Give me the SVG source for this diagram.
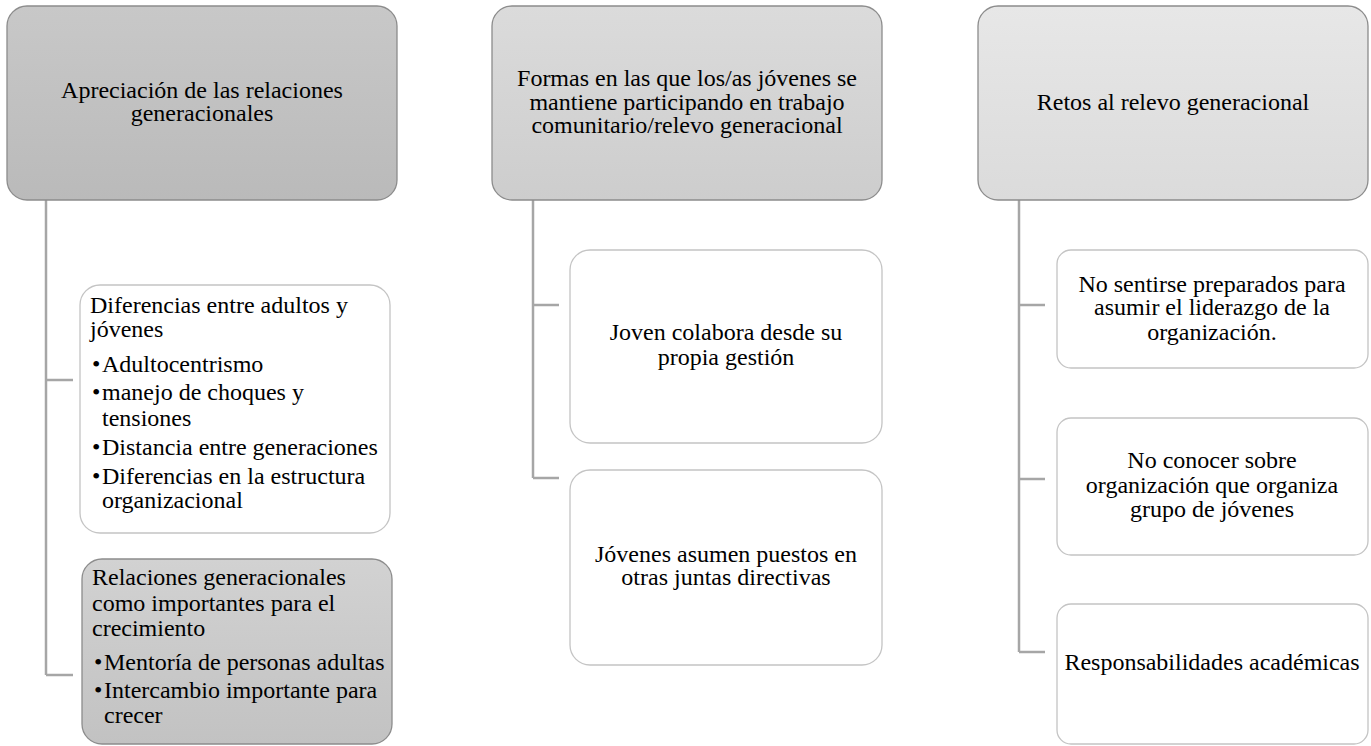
<svg xmlns="http://www.w3.org/2000/svg" width="1371" height="746" viewBox="0 0 1371 746">
<defs>
<linearGradient id="g1" x1="0" y1="0" x2="0" y2="1"><stop offset="0" stop-color="#c8c8c8"/><stop offset="1" stop-color="#bababa"/></linearGradient>
<linearGradient id="g2" x1="0" y1="0" x2="0" y2="1"><stop offset="0" stop-color="#dbdbdb"/><stop offset="1" stop-color="#cdcdcd"/></linearGradient>
<linearGradient id="g3" x1="0" y1="0" x2="0" y2="1"><stop offset="0" stop-color="#e7e7e7"/><stop offset="1" stop-color="#dbdbdb"/></linearGradient>
<linearGradient id="g4" x1="0" y1="0" x2="0" y2="1"><stop offset="0" stop-color="#d2d2d2"/><stop offset="1" stop-color="#c2c2c2"/></linearGradient>
</defs>
<style>
.t{font-family:"Liberation Serif","Times New Roman",serif;font-size:24px;fill:#000}
.c{text-anchor:middle}
.hd{stroke:#8c8c8c;stroke-width:1.3}
.ch{fill:#fff;stroke:#c4c4c4;stroke-width:1.3}
.conn{fill:none;stroke:#a6a6a6;stroke-width:2.5}
</style>
<rect width="1371" height="746" fill="#fff"/>
<g id="connectors">
<path class="conn" d="M46,200 V675 M46,380 H73 M46,675 H73"/>
<path class="conn" d="M533,200 V478 M533,305 H559 M533,478 H559"/>
<path class="conn" d="M1019,200 V652 M1019,305 H1045 M1019,479 H1045 M1019,652 H1045"/>
</g>
<g class="t">
<g id="h1">
<rect class="hd" x="7" y="6" width="390" height="194" rx="20" fill="url(#g1)"/>
<text class="c" x="202" y="98">Apreciación de las relaciones</text>
<text class="c" x="202" y="121">generacionales</text>
</g>
<g id="h2">
<rect class="hd" x="492" y="6" width="390" height="194" rx="20" fill="url(#g2)"/>
<text class="c" x="687" y="86">Formas en las que los/as jóvenes se</text>
<text class="c" x="687" y="110">mantiene participando en trabajo</text>
<text class="c" x="687" y="133">comunitario/relevo generacional</text>
</g>
<g id="h3">
<rect class="hd" x="978" y="6" width="390" height="194" rx="20" fill="url(#g3)"/>
<text class="c" x="1173" y="110">Retos al relevo generacional</text>
</g>
<g id="l1">
<rect class="ch" x="80" y="285" width="310" height="248" rx="20"/>
<text x="90" y="313">Diferencias entre adultos y</text>
<text x="90" y="337">jóvenes</text>
<text x="92" y="372">•</text><text x="102" y="372">Adultocentrismo</text>
<text x="92" y="400">•</text><text x="102" y="400">manejo de choques y</text>
<text x="102" y="426">tensiones</text>
<text x="92" y="455">•</text><text x="102" y="455">Distancia entre generaciones</text>
<text x="92" y="484">•</text><text x="102" y="484">Diferencias en la estructura</text>
<text x="102" y="508">organizacional</text>
</g>
<g id="l2">
<rect class="hd" x="82" y="559" width="310" height="185" rx="20" fill="url(#g4)"/>
<text x="92" y="585">Relaciones generacionales</text>
<text x="92" y="611">como importantes para el</text>
<text x="92" y="636">crecimiento</text>
<text x="94" y="670">•</text><text x="104" y="670">Mentoría de personas adultas</text>
<text x="94" y="698">•</text><text x="104" y="698">Intercambio importante para</text>
<text x="104" y="723">crecer</text>
</g>
<g id="m1">
<rect class="ch" x="570" y="250" width="312" height="193" rx="20"/>
<text class="c" x="726" y="340">Joven colabora desde su</text>
<text class="c" x="726" y="365">propia gestión</text>
</g>
<g id="m2">
<rect class="ch" x="570" y="470" width="312" height="195" rx="20"/>
<text class="c" x="726" y="562">Jóvenes asumen puestos en</text>
<text class="c" x="726" y="585">otras juntas directivas</text>
</g>
<g id="r1">
<rect class="ch" x="1057" y="250" width="311" height="118" rx="14"/>
<text class="c" x="1212" y="292">No sentirse preparados para</text>
<text class="c" x="1212" y="315">asumir el liderazgo de la</text>
<text class="c" x="1212" y="340">organización.</text>
</g>
<g id="r2">
<rect class="ch" x="1057" y="418" width="311" height="137" rx="14"/>
<text class="c" x="1212" y="468">No conocer sobre</text>
<text class="c" x="1212" y="493">organización que organiza</text>
<text class="c" x="1212" y="517">grupo de jóvenes</text>
</g>
<g id="r3">
<rect class="ch" x="1057" y="604" width="311" height="140" rx="14"/>
<text class="c" x="1212" y="670">Responsabilidades académicas</text>
</g>
</g>
</svg>
